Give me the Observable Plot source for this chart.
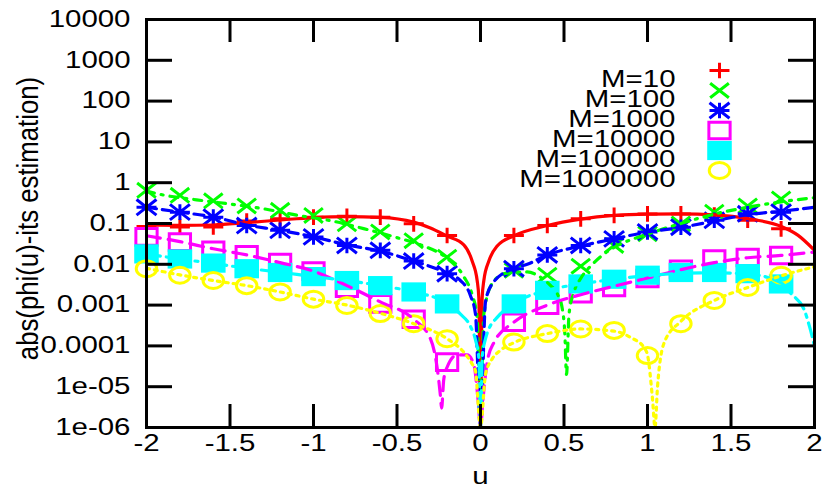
<!DOCTYPE html>
<html><head><meta charset="utf-8">
<script src="https://cdn.jsdelivr.net/npm/d3@7"></script>
<script src="https://cdn.jsdelivr.net/npm/@observablehq/plot@0.6"></script>
<style>body{margin:0;background:#fff}</style>
</head><body><div id="chart"></div>
<script>
// ---------- data ----------
const seriesLabels = ["M=10", "M=100", "M=1000", "M=10000", "M=100000", "M=1000000"];
const seriesColors = ["#ff0000", "#00ff00", "#0000ff", "#ff00ff", "#00ffff", "#ffff00"];

const uPoints = [-2, -1.8, -1.6, -1.4, -1.2, -1, -0.8, -0.6, -0.4, -0.2, 0.2, 0.4, 0.6, 0.8, 1, 1.2, 1.4, 1.6, 1.8];
const pointsM10 = [0.085, 0.082, 0.082, 0.115, 0.13, 0.143, 0.15, 0.143, 0.098, 0.051, 0.051, 0.089, 0.13, 0.158, 0.172, 0.172, 0.16, 0.12, 0.074];
const pointsM100 = [0.65, 0.49, 0.36, 0.27, 0.21, 0.158, 0.098, 0.062, 0.038, 0.015, 0.0071, 0.0054, 0.009, 0.029, 0.056, 0.098, 0.19, 0.27, 0.40];
const pointsM1000 = [0.25, 0.19, 0.143, 0.089, 0.068, 0.047, 0.029, 0.022, 0.012, 0.0059, 0.0078, 0.017, 0.029, 0.042, 0.062, 0.081, 0.12, 0.173, 0.19];
const pointsM10000 = [0.047, 0.035, 0.022, 0.017, 0.011, 0.0068, 0.0026, 0.00107, 0.00045, 0.00004, 0.00038, 0.001, 0.0019, 0.0027, 0.0045, 0.0075, 0.0135, 0.0147, 0.0165];
const pointsM100000 = [0.018, 0.0135, 0.0107, 0.0078, 0.0063, 0.005, 0.004, 0.003, 0.0021, 0.00107, 0.00107, 0.0023, 0.0033, 0.0043, 0.0054, 0.0063, 0.0063, 0.0059, 0.0033];
const pointsM1000000 = [0.0078, 0.0054, 0.004, 0.003, 0.0021, 0.0014, 0.00098, 0.00062, 0.00035, 0.00015, 0.000124, 0.0002, 0.00026, 0.00024, 0.000058, 0.00035, 0.0013, 0.0027, 0.0054];

const curveM10 = [[-2,0.092],[-1.8,0.09],[-1.6,0.092],[-1.4,0.105],[-1.2,0.122],[-1,0.14],[-0.8,0.148],[-0.6,0.142],[-0.4,0.108],[-0.3,0.078],[-0.2,0.049],[-0.1,0.03],[-0.05,0.012],[-0.02,0.004],[-0.01,0.0015],[0,1e-6],[0.01,0.0015],[0.02,0.004],[0.05,0.012],[0.1,0.028],[0.2,0.05],[0.4,0.089],[0.6,0.128],[0.8,0.158],[1,0.17],[1.2,0.172],[1.4,0.162],[1.6,0.132],[1.8,0.085],[1.9,0.052],[2,0.022]];
const curveM100 = [[-2,0.62],[-1.9,0.5],[-1.7,0.38],[-1.5,0.3],[-1.3,0.23],[-1.1,0.16],[-0.9,0.118],[-0.7,0.075],[-0.5,0.045],[-0.35,0.029],[-0.2,0.014],[-0.1,0.005],[-0.05,0.0018],[-0.02,0.0005],[0,1e-6],[0.02,0.0006],[0.07,0.0034],[0.15,0.006],[0.28,0.0065],[0.36,0.0048],[0.42,0.003],[0.46,0.0019],[0.49,0.0008],[0.505,0.0002],[0.515,2e-5],[0.53,0.0006],[0.56,0.0021],[0.6,0.0045],[0.67,0.01],[0.74,0.018],[0.8,0.026],[1,0.055],[1.2,0.1],[1.4,0.17],[1.6,0.25],[1.8,0.34],[2,0.43]];
const curveM1000 = [[-2,0.25],[-1.8,0.19],[-1.6,0.145],[-1.4,0.092],[-1.2,0.068],[-1,0.047],[-0.8,0.03],[-0.6,0.021],[-0.4,0.012],[-0.2,0.006],[-0.12,0.004],[-0.06,0.0017],[-0.03,0.0006],[0,1e-6],[0.03,0.0012],[0.07,0.0033],[0.2,0.008],[0.28,0.01],[0.4,0.017],[0.6,0.028],[0.8,0.042],[1,0.062],[1.2,0.08],[1.4,0.115],[1.6,0.165],[1.8,0.2],[2,0.25]];
const curveM10000 = [[-2,0.05],[-1.8,0.036],[-1.6,0.024],[-1.4,0.017],[-1.2,0.011],[-1,0.0068],[-0.8,0.003],[-0.6,0.0012],[-0.4,0.00045],[-0.3,0.00015],[-0.26,3e-5],[-0.24,6e-6],[-0.233,3e-6],[-0.22,1.5e-5],[-0.2,3e-5],[-0.14,6e-5],[-0.08,6e-5],[-0.04,3.5e-5],[-0.015,5e-6],[0,1e-6],[0.015,5e-6],[0.04,4e-5],[0.08,0.00012],[0.2,0.00038],[0.4,0.001],[0.6,0.0018],[0.8,0.0029],[1,0.0046],[1.2,0.0074],[1.4,0.011],[1.6,0.0145],[1.8,0.0165],[2,0.02]];
const curveM100000 = [[-2,0.018],[-1.8,0.0135],[-1.6,0.0105],[-1.4,0.008],[-1.2,0.0064],[-1,0.005],[-0.8,0.004],[-0.6,0.003],[-0.4,0.0021],[-0.2,0.0011],[-0.12,0.0006],[-0.06,0.0003],[-0.03,0.00014],[-0.01,5e-5],[0,1e-6],[0.01,5e-5],[0.03,0.00015],[0.05,0.00026],[0.1,0.0005],[0.2,0.0011],[0.4,0.0023],[0.6,0.0033],[0.8,0.0043],[1,0.0053],[1.2,0.006],[1.4,0.0062],[1.6,0.0058],[1.8,0.0035],[1.86,0.0019],[1.94,0.00074],[1.97,0.0003],[2,0.0001]];
const curveM1000000 = [[-2,0.008],[-1.8,0.0055],[-1.6,0.004],[-1.4,0.003],[-1.2,0.0021],[-1,0.0014],[-0.8,0.001],[-0.6,0.00063],[-0.4,0.00035],[-0.2,0.00015],[-0.1,7e-5],[-0.05,3.6e-5],[-0.03,2.4e-5],[0,1e-6],[0.03,2e-5],[0.07,4.8e-5],[0.12,7.8e-5],[0.2,0.00012],[0.4,0.0002],[0.6,0.00026],[0.8,0.00023],[0.9,0.00016],[0.98,9e-5],[1,6e-5],[1.03,5e-6],[1.045,1e-6],[1.06,1e-5],[1.1,0.00012],[1.2,0.0004],[1.4,0.0013],[1.6,0.0027],[1.8,0.0052],[2,0.0087]];

const yTicks = [1e4, 1e3, 100, 10, 1, 0.1, 0.01, 1e-3, 1e-4, 1e-5, 1e-6];
const yTickLabels = ["10000", "1000", "100", "10", "1", "0.1", "0.01", "0.001", "0.0001", "1e-05", "1e-06"];
const xTicks = [-2, -1.5, -1, -0.5, 0, 0.5, 1, 1.5, 2];
const xTickLabels = ["-2", "-1.5", "-1", "-0.5", "0", "0.5", "1", "1.5", "2"];
const xLabel = "u";
const yLabel = "abs(phi(u)-its estimation)";

// ---------- styling ----------
const SX = 1.28; // horizontal stretch of the original picture
const W = 830, H = 498, mL = 146, mR = 16, mT = 19, mB = 71;
const plotW = W - mL - mR, plotH = H - mT - mB;

function ell(c, rx, ry) {
  const k = 0.5523;
  c.moveTo(rx, 0);
  c.bezierCurveTo(rx, ry * k, rx * k, ry, 0, ry);
  c.bezierCurveTo(-rx * k, ry, -rx, ry * k, -rx, 0);
  c.bezierCurveTo(-rx, -ry * k, -rx * k, -ry, 0, -ry);
  c.bezierCurveTo(rx * k, -ry, rx, -ry * k, rx, 0);
  c.closePath();
}
const rad = s => Math.sqrt(s / Math.PI);
const symPlus = {draw(c, s) { const r = rad(s); c.moveTo(-r*SX, 0); c.lineTo(r*SX, 0); c.moveTo(0, -r); c.lineTo(0, r); }};
const symTimes = {draw(c, s) { const r = rad(s); c.moveTo(-r*SX, -r); c.lineTo(r*SX, r); c.moveTo(-r*SX, r); c.lineTo(r*SX, -r); }};
const symStar = {draw(c, s) { const r = rad(s); c.moveTo(-r*SX, 0); c.lineTo(r*SX, 0); c.moveTo(0, -r); c.lineTo(0, r);
  c.moveTo(-r*SX, -r); c.lineTo(r*SX, r); c.moveTo(-r*SX, r); c.lineTo(r*SX, -r); }};
const symSquare = {draw(c, s) { const r = rad(s); c.rect(-r*SX, -r, 2*r*SX, 2*r); }};
const symCircle = {draw(c, s) { const r = rad(s); ell(c, r*SX, r); }};

const pointSets = [pointsM10, pointsM100, pointsM1000, pointsM10000, pointsM100000, pointsM1000000];
const curves = [curveM10, curveM100, curveM1000, curveM10000, curveM100000, curveM1000000];
const markerStyle = [
  {symbol: symPlus, r: 7.8, fill: "none", strokeWidth: 3},
  {symbol: symTimes, r: 7.3, fill: "none", strokeWidth: 3},
  {symbol: symStar, r: 7.8, fill: "none", strokeWidth: 3},
  {symbol: symSquare, r: 8.3, fill: "none", strokeWidth: 3},
  {symbol: symSquare, r: 9.6, fill: "fill", strokeWidth: 0},
  {symbol: symCircle, r: 8, fill: "none", strokeWidth: 3}
];
const dashes = [null, "8,7,2,7", "10,6", "14,8", "14,6,3,6", "3,5"];

const marks = [];
// points
pointSets.forEach((vals, k) => {
  const st = markerStyle[k];
  marks.push(Plot.dot(uPoints.map((u, i) => ({u, v: vals[i]})), {
    x: "u", y: "v", symbol: st.symbol, r: st.r,
    stroke: st.fill === "fill" ? "none" : seriesColors[k],
    fill: st.fill === "fill" ? seriesColors[k] : "none",
    strokeWidth: st.strokeWidth
  }));
});
// curves
curves.forEach((cv, k) => {
  marks.push(Plot.line(cv, {
    x: d => d[0], y: d => d[1], stroke: seriesColors[k], strokeWidth: 3.2,
    strokeDasharray: dashes[k], curve: "monotone-x", clip: true
  }));
});
// frame + inward ticks (left, right, bottom, top)
marks.push(Plot.frame({stroke: "black", strokeWidth: 3}));
marks.push(Plot.tickY(yTicks, {y: d => d, insetRight: plotW - 26, stroke: "black", strokeWidth: 3}));
marks.push(Plot.tickY(yTicks, {y: d => d, insetLeft: plotW - 26, stroke: "black", strokeWidth: 3}));
marks.push(Plot.tickX(xTicks, {x: d => d, insetTop: plotH - 23, stroke: "black", strokeWidth: 3}));
marks.push(Plot.tickX(xTicks, {x: d => d, insetBottom: plotH - 23, stroke: "black", strokeWidth: 3}));
// tick labels
marks.push(Plot.text(yTicks, {y: d => d, text: (d, i) => yTickLabels[i], frameAnchor: "left", textAnchor: "end", dx: -16, fill: "black"}));
marks.push(Plot.text(xTicks, {x: d => d, text: (d, i) => xTickLabels[i], frameAnchor: "bottom", dy: 23, fill: "black"}));
// axis titles
marks.push(Plot.text([xLabel], {text: d => d, frameAnchor: "bottom", dy: 56, fill: "black"}));
marks.push(Plot.text([yLabel], {text: d => d, frameAnchor: "left", textAnchor: "middle", rotate: -90, dx: -118, dy: -5, fill: "black"}));
// legend
seriesLabels.forEach((lab, k) => {
  const st = markerStyle[k];
  marks.push(Plot.text([lab], {text: d => d, frameAnchor: "top-right", textAnchor: "end", dx: -139, dy: 51 + 20 * k, fill: "black"}));
  marks.push(Plot.dot([lab], {frameAnchor: "top-right", dx: -95, dy: 51 + 20 * k, symbol: st.symbol, r: st.r,
    stroke: st.fill === "fill" ? "none" : seriesColors[k],
    fill: st.fill === "fill" ? seriesColors[k] : "none",
    strokeWidth: st.strokeWidth}));
});

const svg = Plot.plot({
  width: W, height: H,
  marginLeft: mL, marginRight: mR, marginTop: mT, marginBottom: mB,
  x: {domain: [-2, 2], axis: null},
  y: {type: "log", domain: [1e-6, 1e4], axis: null},
  style: {fontFamily: "'Liberation Sans', Arial, sans-serif", fontSize: "23px", background: "white", color: "black"},
  marks
});

// the original picture is stretched horizontally: stretch text the same way
svg.querySelectorAll("text").forEach(t => {
  const tr = t.getAttribute("transform") || "";
  if (/rotate/.test(tr)) t.setAttribute("transform", tr + " scale(1.12," + SX + ")");
  else t.setAttribute("transform", tr + " scale(" + SX + ",1)");
});
document.getElementById("chart").appendChild(svg);
</script></body></html>
